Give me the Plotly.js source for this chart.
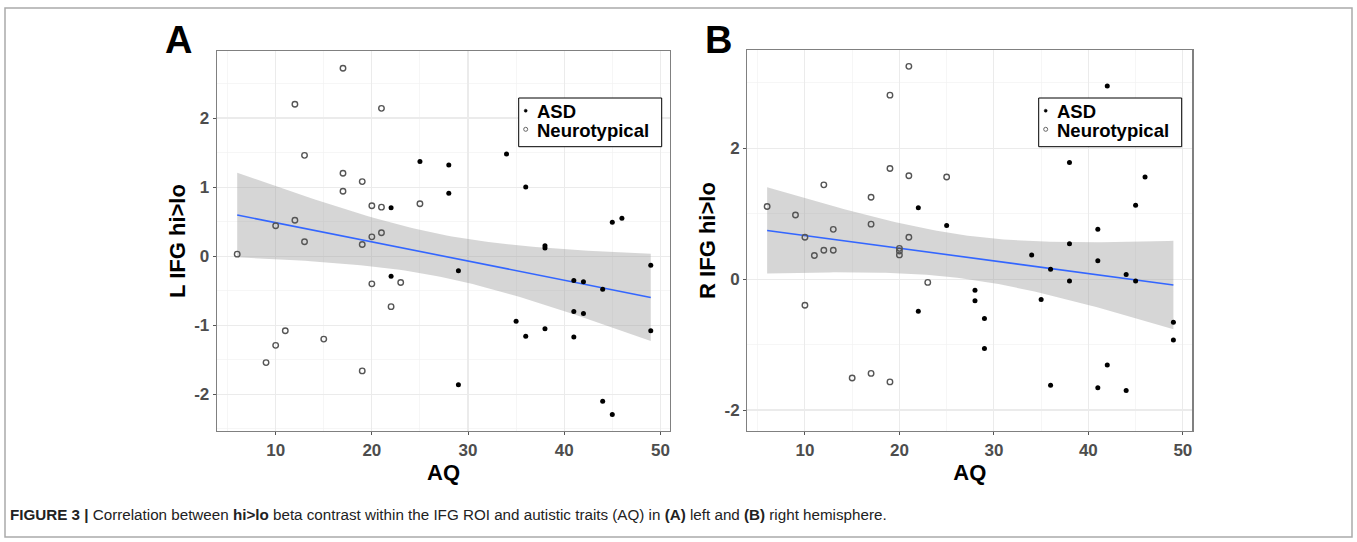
<!DOCTYPE html>
<html>
<head>
<meta charset="utf-8">
<script src="https://cdn.plot.ly/plotly-3.0.1.min.js"></script>
<style>
html,body{margin:0;padding:0;background:#fff;}
#chart{width:1357px;height:542px;}
</style>
</head>
<body>
<div id="chart"></div>
<script>
// ---- Data ----
// Panel A (left IFG)
const aAsdAQ   = [25,22,28,28,34,36,45,46,38,38,22,29,49,41,42,44,35,41,42,36,38,41,49,29,44,45];
const aAsdBeta = [1.37,0.70,1.32,0.91,1.48,1.00,0.49,0.55,0.15,0.12,-0.29,-0.21,-0.13,-0.35,-0.37,-0.48,-0.94,-0.80,-0.83,-1.16,-1.05,-1.17,-1.08,-1.86,-2.10,-2.29];
const aNtAQ    = [17,12,21,13,17,19,17,20,21,25,10,12,13,19,20,21,6,20,23,22,11,10,15,9,19];
const aNtBeta  = [2.72,2.20,2.14,1.46,1.20,1.08,0.94,0.73,0.71,0.76,0.44,0.52,0.21,0.17,0.28,0.34,0.03,-0.40,-0.38,-0.73,-1.08,-1.29,-1.20,-1.54,-1.66];
// Panel B (right IFG)
const bAsdAQ   = [22,25,42,38,46,45,41,22,28,28,29,29,34,38,41,36,38,44,45,35,49,49,42,36,41,44];
const bAsdBeta = [1.09,0.82,2.95,1.78,1.56,1.13,0.76,-0.49,-0.17,-0.33,-0.60,-1.06,0.37,0.54,0.28,0.15,-0.03,0.07,-0.03,-0.31,-0.66,-0.93,-1.31,-1.62,-1.66,-1.70];
const bNtAQ    = [21,19,19,21,25,12,17,6,9,13,17,10,21,11,12,13,20,20,20,23,10,15,17,19];
const bNtBeta  = [3.25,2.81,1.69,1.58,1.56,1.44,1.25,1.11,0.98,0.76,0.84,0.64,0.64,0.36,0.44,0.44,0.47,0.43,0.37,-0.05,-0.40,-1.51,-1.44,-1.57];

const groupNames = ['ASD','Neurotypical'];
const xTickVals = [10,20,30,40,50];
const yTickValsA = [-2,-1,0,1,2];
const yTickValsB = [-2,0,2];
const xTitle = 'AQ';
const yTitleA = 'L IFG hi&gt;lo';
const yTitleB = 'R IFG hi&gt;lo';
const panelLetters = ['A','B'];
const caption = '<b>FIGURE 3 |</b> Correlation between <b>hi&gt;lo</b> beta contrast within the IFG ROI and autistic traits (AQ) in <b>(A)</b> left and <b>(B)</b> right hemisphere.';

// ---- Linear fit with 95% confidence band (like geom_smooth(method = "lm")) ----
function tQuant(df){
  const z = 1.959964;
  return z + (z*z*z + z)/(4*df) + (5*Math.pow(z,5) + 16*z*z*z + 3*z)/(96*df*df);
}
function lmFit(xs, ys){
  const n = xs.length;
  const mx = xs.reduce((a,b)=>a+b,0)/n, my = ys.reduce((a,b)=>a+b,0)/n;
  let sxx=0, sxy=0;
  for(let i=0;i<n;i++){ sxx += (xs[i]-mx)**2; sxy += (xs[i]-mx)*(ys[i]-my); }
  const b = sxy/sxx, a = my - b*mx;
  let sse=0;
  for(let i=0;i<n;i++){ sse += (ys[i]-a-b*xs[i])**2; }
  const s = Math.sqrt(sse/(n-2)), t = tQuant(n-2);
  const lo = Math.min(...xs), hi = Math.max(...xs);
  const gx=[], gy=[], up=[], dn=[];
  for(let k=0;k<80;k++){
    const x = lo + (hi-lo)*k/79;
    const y = a + b*x;
    const se = s*Math.sqrt(1/n + (x-mx)**2/sxx);
    gx.push(x); gy.push(y); up.push(y + t*se); dn.push(y - t*se);
  }
  return {gx, gy, up, dn};
}

const FONT = 'Liberation Sans, Arial, Helvetica, sans-serif';

function panelTraces(asdX, asdY, ntX, ntY, xa, ya){
  const fit = lmFit(asdX.concat(ntX), asdY.concat(ntY));
  return [
    {x: fit.gx.concat(fit.gx.slice().reverse()), y: fit.up.concat(fit.dn.slice().reverse()),
     type:'scatter', mode:'lines', fill:'toself', fillcolor:'rgba(153,153,153,0.4)',
     line:{width:0, color:'rgba(0,0,0,0)'}, hoverinfo:'skip', showlegend:false, xaxis:xa, yaxis:ya},
    {x: fit.gx, y: fit.gy, type:'scatter', mode:'lines', line:{color:'#3366FF', width:1.6},
     hoverinfo:'skip', showlegend:false, xaxis:xa, yaxis:ya},
    {x: asdX, y: asdY, type:'scatter', mode:'markers', name: groupNames[0], showlegend:false,
     marker:{symbol:'circle', size:5, color:'#000'}, xaxis:xa, yaxis:ya},
    {x: ntX, y: ntY, type:'scatter', mode:'markers', name: groupNames[1], showlegend:false,
     marker:{symbol:'circle-open', size:5.5, color:'#555', line:{width:1.4, color:'#555'}},
     xaxis:xa, yaxis:ya}
  ];
}

const data = panelTraces(aAsdAQ, aAsdBeta, aNtAQ, aNtBeta, 'x', 'y')
  .concat(panelTraces(bAsdAQ, bAsdBeta, bNtAQ, bNtBeta, 'x2', 'y2'));

const W = 1357, H = 542;
function px(x){ return x/W; }
function py(y){ return 1 - y/H; }
const fmt = v => String(v).replace('\u2212','-');

function xAxis(domain){
  return {
    domain: domain, range:[3.9, 51.0], tickvals: xTickVals, ticktext: xTickVals.map(fmt),
    showgrid:true, gridcolor:'#ebebeb', gridwidth:1.1,
    minor:{dtick:5, tick0:0, showgrid:true, gridcolor:'#f2f2f2', gridwidth:0.7},
    zeroline:false, showline:true, mirror:true, linecolor:'#808080', linewidth:1.3,
    ticks:'outside', ticklen:3, tickwidth:1, tickcolor:'#555',
    tickfont:{family:FONT, size:17, color:'#4d4d4d', weight:700},
    title:{text:xTitle, font:{family:FONT, size:22, color:'#000', weight:700}, standoff:0},
    fixedrange:true
  };
}
function yAxis(domain, range, tickvals, mdtick, title, anchor){
  return {
    domain: domain, range: range, tickvals: tickvals, ticktext: tickvals.map(fmt), anchor: anchor,
    showgrid:true, gridcolor:'#ebebeb', gridwidth:1.1,
    minor:{dtick:mdtick, tick0:0, showgrid:true, gridcolor:'#f2f2f2', gridwidth:0.7},
    zeroline:false, showline:true, mirror:true, linecolor:'#808080', linewidth:1.3,
    ticks:'outside', ticklen:3, tickwidth:1, tickcolor:'#555',
    tickfont:{family:FONT, size:17, color:'#4d4d4d', weight:700},
    title:{text:title, font:{family:FONT, size:22, color:'#000', weight:700}, standoff:2},
    fixedrange:true
  };
}

// custom legend boxes (key shapes + real text)
function legendParts(x0, x1, y0, y1){
  const shapes = [
    {type:'rect', xref:'paper', yref:'paper', x0:px(x0), x1:px(x1), y0:py(y1), y1:py(y0),
     line:{color:'#000', width:1}, fillcolor:'#fff', layer:'above'},
    {type:'circle', xref:'paper', yref:'paper', x0:px(x0+5.5), x1:px(x0+8.5), y0:py(y0+14.2), y1:py(y0+11.2),
     line:{color:'#000', width:0.5}, fillcolor:'#000', layer:'above'},
    {type:'circle', xref:'paper', yref:'paper', x0:px(x0+5), x1:px(x0+9), y0:py(y0+33.3), y1:py(y0+29.3),
     line:{color:'#666', width:1}, fillcolor:'#fff', layer:'above'}
  ];
  const ann = [
    {text:groupNames[0], xref:'paper', yref:'paper', x:px(x0+16), y:py(y0+13), xanchor:'left', yanchor:'middle',
     showarrow:false, font:{family:FONT, size:18.5, color:'#000', weight:700}},
    {text:groupNames[1], xref:'paper', yref:'paper', x:px(x0+16), y:py(y0+32.5), xanchor:'left', yanchor:'middle',
     showarrow:false, font:{family:FONT, size:18.5, color:'#000', weight:700}}
  ];
  return {shapes, ann};
}
const legA = legendParts(518.7, 661.7, 98, 146.7);
const legB = legendParts(1038.7, 1181.7, 98, 146.7);

const layout = {
  width: W, height: H,
  margin:{l:0, r:0, t:0, b:0},
  paper_bgcolor:'#fff', plot_bgcolor:'#fff',
  font:{family:FONT},
  showlegend:false,
  xaxis: Object.assign(xAxis([px(217), px(670)]), {anchor:'y'}),
  yaxis: yAxis([py(431), py(51)], [-2.53, 2.97], yTickValsA, 0.5, yTitleA, 'x'),
  xaxis2: Object.assign(xAxis([px(747.3), px(1192.3)]), {anchor:'y2'}),
  yaxis2: yAxis([py(431), py(50)], [-2.32, 3.50], yTickValsB, 1, yTitleB, 'x2'),
  shapes:[
    {type:'rect', xref:'paper', yref:'paper', x0:px(5), x1:px(1352), y0:py(537), y1:py(8),
     line:{color:'#aaaaaa', width:1.5}, fillcolor:'rgba(0,0,0,0)', layer:'below'}
  ].concat(legA.shapes, legB.shapes),
  annotations:[
    {text:'<b>'+panelLetters[0]+'</b>', xref:'paper', yref:'paper', x:px(178), y:py(40),
     xanchor:'center', yanchor:'middle', showarrow:false, font:{family:FONT, size:38, color:'#000'}},
    {text:'<b>'+panelLetters[1]+'</b>', xref:'paper', yref:'paper', x:px(718), y:py(40),
     xanchor:'center', yanchor:'middle', showarrow:false, font:{family:FONT, size:38, color:'#000'}},
    {text:caption, xref:'paper', yref:'paper', x:px(8), y:py(514), xanchor:'left', yanchor:'middle',
     showarrow:false, font:{family:FONT, size:15.2, color:'#222'}}
  ].concat(legA.ann, legB.ann)
};

Plotly.newPlot('chart', data, layout, {staticPlot:true, displayModeBar:false});
</script>
</body>
</html>
